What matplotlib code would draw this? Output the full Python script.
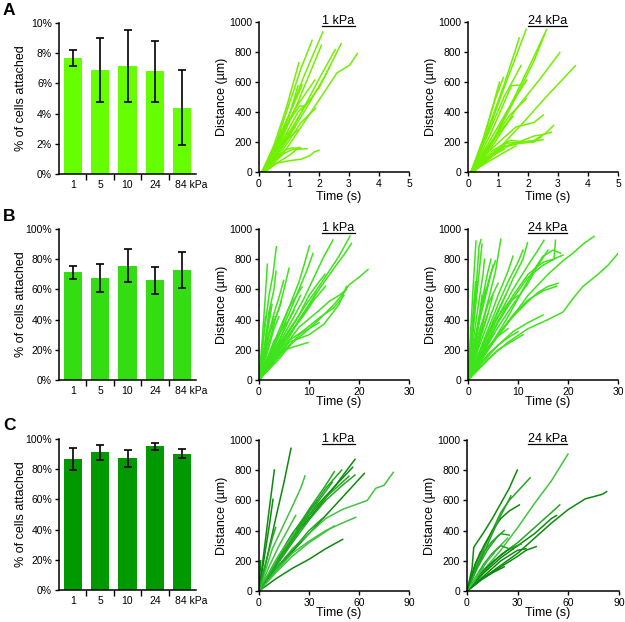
import matplotlib
matplotlib.use('Agg')
import matplotlib.pyplot as plt
from matplotlib.lines import Line2D

plt.rcParams['font.family'] = ['Liberation Sans', 'DejaVu Sans']

# ---------------- data ----------------
stiffness_labels = ['1', '5', '10', '24', '84 kPa']

a_attached = [7.7, 6.9, 7.15, 6.8, 4.4]
a_err = [0.53, 2.1, 2.4, 2.0, 2.5]
b_attached = [71.2, 67.4, 75.8, 65.9, 72.7]
b_err = [4.4, 9.3, 11.0, 8.8, 12.0]
c_attached = [86.7, 91.1, 87.1, 95.1, 90.2]
c_err = [7.5, 5.0, 5.4, 2.5, 3.1]

# tracks: lists of (time s, distance um)
a1_tracks = [
    [(0.1, 0), (0.5, 120), (1.0, 380), (1.5, 640), (2.13, 934)],
    [(0.1, 0), (0.5, 150), (1.0, 450), (1.4, 690), (1.77, 878)],
    [(0.1, 0), (0.6, 150), (1.2, 420), (1.7, 660), (2.08, 845)],
    [(0.2, 0), (0.8, 170), (1.5, 400), (2.2, 640), (2.74, 856)],
    [(0.2, 0), (0.8, 180), (1.5, 430), (2.0, 620), (2.54, 816)],
    [(0.2, 0), (0.8, 120), (1.5, 330), (2.2, 540), (2.6, 661), (3.02, 712), (3.28, 790)],
    [(0.1, 0), (0.5, 180), (0.9, 420), (1.33, 728)],
    [(0.2, 0), (0.8, 190), (1.5, 430), (2.0, 560), (2.35, 700)],
    [(0.1, 0), (0.6, 190), (1.2, 420), (1.86, 613)],
    [(0.1, 0), (0.5, 130), (1.0, 340), (1.35, 440), (1.52, 440)],
    [(0.2, 0), (0.8, 150), (1.4, 330), (1.89, 425)],
    [(0.1, 0), (0.5, 160), (1.0, 380), (1.44, 580)],
    [(0.1, 0), (0.5, 55), (1.0, 75), (1.4, 85), (1.7, 110), (1.85, 135), (2.0, 145)],
    [(0.1, 0), (0.5, 80), (0.9, 150), (1.1, 160), (1.4, 160)],
    [(0.1, 0), (0.5, 120), (0.9, 250), (1.2, 300)],
    [(0.1, 0), (0.4, 60), (0.8, 120), (1.1, 150), (1.6, 155)],
    [(0.1, 0), (0.6, 200), (1.0, 370), (1.3, 575)],
    [(0.1, 0), (0.5, 100), (1.0, 230), (1.3, 280)],
    [(0.2, 0), (0.6, 60), (1.0, 110), (1.35, 165)],
    [(0.1, 0), (0.4, 90), (0.8, 200), (1.0, 260)],
    [(0.15, 0), (0.7, 180), (1.3, 400), (1.7, 480)],
]

a2_tracks = [
    [(0.1, 0), (0.6, 230), (1.2, 560), (1.94, 951)],
    [(0.1, 0), (0.6, 250), (1.2, 580), (1.71, 894)],
    [(0.2, 0), (0.8, 200), (1.6, 520), (2.2, 770), (2.62, 949)],
    [(0.2, 0), (0.8, 190), (1.6, 500), (2.2, 740), (2.55, 915)],
    [(0.2, 0), (0.9, 200), (1.6, 420), (2.4, 620), (3.06, 796)],
    [(0.2, 0), (1.0, 150), (1.8, 320), (2.6, 500), (3.58, 708)],
    [(0.1, 0), (0.6, 220), (1.2, 500), (1.77, 710)],
    [(0.1, 0), (0.5, 220), (0.9, 480), (1.18, 630)],
    [(0.1, 0), (0.5, 200), (0.8, 420), (1.05, 600)],
    [(0.1, 0), (0.7, 200), (1.4, 440), (1.96, 613)],
    [(0.1, 0), (0.7, 230), (1.2, 460), (1.45, 575), (1.7, 580)],
    [(0.1, 0), (0.7, 180), (1.4, 380), (1.95, 490)],
    [(0.1, 0), (0.6, 120), (1.2, 230), (1.6, 300), (2.2, 330), (2.51, 380)],
    [(0.1, 0), (0.6, 90), (1.2, 190), (1.8, 200), (2.2, 210), (2.6, 260), (2.85, 310)],
    [(0.1, 0), (0.6, 80), (1.2, 170), (1.7, 200), (2.2, 240), (2.5, 250), (2.78, 265)],
    [(0.1, 0), (0.7, 100), (1.3, 170), (1.7, 190), (2.2, 200), (2.45, 235)],
    [(0.1, 0), (0.6, 150), (1.1, 280), (1.5, 370)],
    [(0.1, 0), (0.5, 70), (1.0, 130), (1.3, 200)],
    [(0.1, 0), (0.6, 60), (1.2, 130), (1.6, 175)],
    [(0.1, 0), (0.5, 110), (1.0, 250), (1.3, 320)],
    [(0.1, 0), (0.8, 140), (1.4, 210), (2.0, 200), (2.5, 215)],
    [(0.1, 0), (0.5, 50), (0.9, 120), (1.2, 150)],
]

b1_tracks = [
    [(0, 0), (1, 300), (2, 560), (2.8, 700), (3.47, 882)],
    [(0, 0), (0.6, 250), (1.2, 520), (1.67, 767)],
    [(0, 0), (1, 200), (2, 450), (3, 600), (3.4, 720)],
    [(0, 0), (1.5, 250), (3, 440), (4.2, 570), (4.93, 660)],
    [(0, 0), (1, 180), (2, 380), (2.6, 500)],
    [(0, 0), (0.8, 160), (1.6, 330), (2.2, 480)],
    [(0, 0), (2, 300), (4, 470), (5, 600), (6, 740)],
    [(0, 0), (2, 150), (4, 300), (6, 480), (8, 650), (9, 760), (10.1, 889)],
    [(0, 0), (2, 140), (4, 290), (6, 440), (8, 600), (9.5, 720), (10.8, 838)],
    [(0, 0), (3, 180), (6, 360), (9, 540), (11, 680), (13, 820), (14.8, 927)],
    [(0, 0), (3, 170), (6, 320), (9, 480), (12, 620), (14, 720), (16, 820), (18.2, 953)],
    [(0, 0), (3, 160), (6, 300), (9, 440), (12, 600), (15, 740), (17, 830), (18.5, 905)],
    [(0, 0), (3, 120), (6, 230), (9, 310), (12, 400), (15, 500), (17, 580), (18, 630), (20, 680), (21.8, 732)],
    [(0, 0), (3, 150), (6, 300), (9, 430), (11, 530), (13.3, 621)],
    [(0, 0), (2, 100), (5, 200), (8, 230), (9.8, 248)],
    [(0, 0), (2, 160), (4, 330), (6, 480), (8.6, 616)],
    [(0, 0), (3, 120), (6, 250), (10, 300), (13, 370), (16, 500), (17.5, 620)],
    [(0, 0), (3, 130), (6, 260), (9, 330), (12, 410), (15, 480), (17, 560)],
    [(0, 0), (3, 170), (6, 330), (8, 430), (10, 560), (12, 650), (13.2, 700)],
    [(0, 0), (2, 130), (4, 260), (6, 400), (7, 460)],
    [(0, 0), (2, 110), (4, 230), (6, 330), (7.5, 400)],
    [(0, 0), (3, 140), (6, 280), (8, 400), (10, 500), (11.5, 580)],
    [(0, 0), (1.5, 130), (3, 260), (4.5, 330), (5.5, 380)],
    [(0, 0), (2, 70), (4, 140), (6, 220), (8, 300), (10, 340), (12, 380)],
    [(0, 0), (1, 140), (2, 300), (3, 420)],
    [(0, 0), (1, 100), (2, 220), (3, 340), (4, 420)],
    [(0, 0), (3, 190), (5, 330), (7, 470), (8.3, 560)],
    [(0, 0), (4, 170), (8, 350), (12, 460), (14, 520), (16, 560), (17.5, 600)],
    [(0, 0), (0.5, 150), (1, 320), (1.3, 420)],
    [(0, 0), (2, 250), (3.5, 430), (4.5, 520)],
    [(0, 0), (1, 80), (2.5, 200), (4, 300), (5, 360)],
]

b2_tracks = [
    [(0, 0), (0.5, 300), (1, 600), (1.6, 920)],
    [(0, 0), (0.8, 300), (1.6, 600), (2.2, 880), (2.6, 930)],
    [(0, 0), (1, 330), (2, 640), (2.8, 900)],
    [(0, 0), (0.6, 250), (1.2, 500), (1.5, 650)],
    [(0, 0), (1, 250), (2, 480), (3, 700), (3.3, 800)],
    [(0, 0), (1, 200), (2, 380), (3, 560), (4, 720), (4.6, 800)],
    [(0, 0), (1, 200), (2.5, 420), (4, 620), (5, 760)],
    [(0, 0), (1.5, 280), (3, 520), (4.5, 700), (5.5, 790)],
    [(0, 0), (2, 260), (4, 520), (5.5, 720), (6.57, 933)],
    [(0, 0), (0.5, 150), (1, 330), (1.4, 480)],
    [(0, 0), (1, 150), (2, 350), (2.8, 560)],
    [(0, 0), (3, 220), (6, 450), (9, 670), (11, 800), (11.9, 909)],
    [(0, 0), (3, 200), (6, 420), (9, 600), (12, 760), (14, 860), (15.2, 925)],
    [(0, 0), (3, 180), (6, 380), (9, 540), (12, 680), (15, 760), (17.2, 800), (17.5, 925)],
    [(0, 0), (3, 150), (6, 300), (9, 430), (12, 530), (15, 590), (17.7, 621)],
    [(0, 0), (3, 190), (6, 390), (9, 560), (12, 700), (15, 780), (17, 800), (19, 827)],
    [(0, 0), (4, 200), (8, 380), (12, 560), (16, 700), (19, 790), (21, 840), (23, 900), (25.2, 951)],
    [(0, 0), (4, 140), (8, 250), (12, 340), (16, 400), (19, 450), (21, 540), (23, 620), (26, 700), (28, 760), (30, 838)],
    [(0, 0), (2, 200), (4, 380), (6, 560), (8, 720), (9, 820)],
    [(0, 0), (3, 250), (6, 500), (8, 650), (10, 780), (11, 860)],
    [(0, 0), (3, 180), (6, 350), (9, 500), (12, 640), (14, 760), (16, 860)],
    [(0, 0), (3, 160), (6, 300), (9, 420), (12, 520), (14, 580), (16, 620), (18, 640)],
    [(0, 0), (3, 120), (6, 230), (9, 320), (12, 380), (15, 430)],
    [(0, 0), (2, 120), (4, 220), (6, 290), (8, 340)],
    [(0, 0), (2, 150), (4, 300), (6, 420), (8, 510), (10, 560)],
    [(0, 0), (1, 120), (2, 240), (3, 350), (4, 440)],
    [(0, 0), (2, 220), (4, 440), (5, 560)],
    [(0, 0), (1.5, 200), (3, 380), (4, 520)],
    [(0, 0), (3, 100), (6, 200), (9, 260), (11, 300)],
    [(0, 0), (4, 200), (8, 420), (11, 600), (13, 720), (15, 820), (17, 860), (18.5, 840)],
    [(0, 0), (2, 160), (4, 310), (6, 460), (7.5, 560)],
    [(0, 0), (1, 180), (2, 350), (3, 520), (3.5, 600)],
    [(0, 0), (0.6, 200), (1.2, 420), (1.8, 650)],
    [(0, 0), (0.4, 150), (0.9, 380), (1.3, 560)],
    [(0, 0), (1, 150), (2, 300), (3, 400), (4, 500), (5, 570), (6, 640)],
    [(0, 0), (2, 90), (4, 170), (6, 230), (8, 280), (10, 320)],
]

c1_tracks = [
    [(0, 0), (5, 230), (10, 480), (15, 720), (19.2, 945)],
    [(0, 0), (3, 260), (6, 530), (9.2, 801)],
    [(0, 0), (3, 210), (6, 420), (8.4, 607)],
    [(0, 0), (12, 230), (24, 420), (36, 580), (46, 700), (52, 790), (57.6, 872)],
    [(0, 0), (12, 210), (24, 400), (36, 560), (46, 700), (56.2, 819)],
    [(0, 0), (15, 200), (30, 380), (45, 560), (55, 680), (63.2, 779)],
    [(0, 0), (10, 80), (20, 150), (30, 210), (40, 280), (50.2, 342)],
    [(0, 0), (0.5, 100), (1, 200)],
    [(0, 0), (10, 200), (20, 380), (28, 500), (35, 600)],
    [(0, 0), (10, 190), (20, 370), (30, 540), (40, 700), (45.2, 790)],
    [(0, 0), (10, 170), (20, 350), (30, 520), (40, 680), (49.6, 801)],
    [(0, 0), (10, 160), (20, 320), (30, 470), (40, 600), (50, 700), (57.6, 768)],
    [(0, 0), (8, 280), (14, 420), (20, 560), (25, 680), (27.6, 762)],
    [(0, 0), (10, 130), (20, 250), (30, 330), (40, 400), (50, 450), (58, 488)],
    [(0, 0), (10, 140), (20, 280), (30, 380), (40, 480), (50, 540), (60, 580), (65, 600), (70, 680), (75, 700), (80.6, 786)],
    [(0, 0), (10, 180), (20, 350), (30, 500), (40, 620), (50, 720), (54, 760)],
    [(0, 0), (8, 150), (16, 300), (24, 430), (32, 560)],
    [(0, 0), (10, 150), (20, 270), (30, 400), (38, 480)],
    [(0, 0), (6, 120), (12, 240), (18, 330), (22, 400)],
    [(0, 0), (10, 120), (20, 230), (30, 320), (45, 430)],
    [(0, 0), (12, 200), (24, 400), (36, 600), (44, 720)],
    [(0, 0), (6, 160), (12, 300), (18, 420), (22, 500)],
    [(0, 0), (4, 180), (8, 350), (10, 420)],
]
c1_shades = ['d', 'd', 'd', 'd', 'd', 'd', 'd', 'd', 'd', 'm', 'm', 'm', 'l',
             'l', 'l', 'm', 'm', 'm', 'l', 'l', 'm', 'l', 'm']

c2_tracks = [
    [(0, 0), (3, 150), (4, 290), (10, 390), (15, 480), (20, 580), (25, 680), (29.8, 801)],
    [(0, 0), (5, 150), (10, 280), (15, 400), (20, 520), (25, 600), (30, 660), (37.4, 750)],
    [(0, 0), (10, 140), (20, 270), (30, 420), (40, 580), (50, 730), (59.8, 907)],
    [(0, 0), (10, 130), (20, 240), (30, 320), (40, 420), (50, 520), (54.9, 570)],
    [(0, 0), (10, 90), (20, 170), (30, 250), (40, 350), (50, 450), (60, 540), (70, 610), (80, 640), (82.7, 658)],
    [(0, 0), (10, 120), (20, 220), (30, 300), (40, 380), (50, 480), (53, 500)],
    [(0, 0), (10, 90), (20, 160), (30, 230), (35, 270), (41, 294)],
    [(0, 0), (8, 120), (16, 200), (24, 270), (30, 300)],
    [(0, 0), (5, 150), (10, 260), (15, 330), (20, 380), (25, 370)],
    [(0, 0), (5, 180), (10, 300), (15, 400), (20, 480), (25, 530), (31, 570)],
    [(0, 0), (8, 70), (15, 120), (22, 160)],
    [(0, 0), (5, 130), (10, 250), (15, 380), (20, 500), (26, 630)],
    [(0, 0), (6, 100), (12, 200), (18, 280), (24, 350)],
    [(0, 0), (5, 90), (10, 180), (15, 250), (20, 300), (25, 280), (32, 310)],
    [(0, 0), (4, 60), (8, 130), (12, 200), (16, 250)],
    [(0, 0), (10, 100), (20, 200), (30, 270), (35, 280)],
    [(0, 0), (6, 150), (12, 270), (18, 360), (22, 400)],
    [(0, 0), (3, 50), (6, 110), (10, 150)],
    [(0, 0), (2, 80), (5, 180), (8, 260)],
]
c2_shades = ['d', 'm', 'l', 'm', 'd', 'd', 'd', 'd', 'm', 'd', 'd', 'm', 'l',
             'm', 'l', 'd', 'm', 'l', 'd']

# ---------------- styling ----------------
W, H = 625, 622
fig = plt.figure(figsize=(W / 100, H / 100), dpi=100)

def rect(l, t, r, b):
    return [l / W, 1 - b / H, (r - l) / W, (b - t) / H]

TICK_FS = 7.5
LAB_FS = 9
bar_colors = {'A': '#66FF00', 'B': '#33DD11', 'C': '#009A00'}
line_colors = {'A': '#72F000', 'B': '#3DE31B'}
c_shade_colors = {'d': '#0C8A0C', 'm': '#22A822', 'l': '#40C440'}

def style_axes(ax):
    for s in ['top', 'right']:
        ax.spines[s].set_visible(False)
    for s in ['left', 'bottom']:
        ax.spines[s].set_linewidth(1.1)
    ax.tick_params(direction='out', length=3, width=1, labelsize=TICK_FS, pad=2)

def bar_panel(r, vals, errs, color, ymax, step):
    ax = fig.add_axes(rect(*r))
    style_axes(ax)
    x = list(range(len(vals)))
    ax.bar(x, vals, width=0.66, color=color, edgecolor='none', zorder=2)
    ax.errorbar(x, vals, yerr=errs, fmt='none', ecolor='black', elinewidth=1.2,
                capsize=2.6, capthick=1.2, zorder=3)
    ax.set_xlim(-0.5, 4.5)
    ax.set_ylim(0, ymax)
    ticks = [i * step for i in range(int(round(ymax / step)) + 1)]
    ax.set_yticks(ticks)
    ax.set_yticklabels(['%g%%' % t for t in ticks])
    ax.set_xticks([0.5, 1.5, 2.5, 3.5])
    ax.set_xticklabels([])
    ax.tick_params(axis='x', which='major', length=4)
    # category labels; the last one ("84 kPa") starts just left of its bar centre
    for i, lab in enumerate(stiffness_labels):
        if i < len(stiffness_labels) - 1:
            ax.annotate(lab, xy=(x[i], 0), xycoords=('data', 'axes fraction'),
                        xytext=(0, -6), textcoords='offset pixels',
                        ha='center', va='top', fontsize=TICK_FS)
        else:
            ax.annotate(lab, xy=(x[i], 0), xycoords=('data', 'axes fraction'),
                        xytext=(-7, -6), textcoords='offset pixels',
                        ha='left', va='top', fontsize=TICK_FS)
    ax.set_ylabel('% of cells attached', fontsize=LAB_FS)
    ax.yaxis.set_label_coords(-0.235, 0.5)
    return ax

def line_panel(r, tracks, colors, xmax, xstep, title):
    ax = fig.add_axes(rect(*r))
    style_axes(ax)
    for tr, c in zip(tracks, colors):
        ax.plot([p[0] for p in tr], [p[1] for p in tr], color=c, lw=1.1,
                solid_joinstyle='round')
    ax.set_xlim(0, xmax)
    ax.set_ylim(0, 1000)
    ax.set_yticks(range(0, 1001, 200))
    ax.set_xticks([i * xstep for i in range(int(round(xmax / xstep)) + 1)])
    ax.set_ylabel('Distance (\u00b5m)', fontsize=LAB_FS)
    ax.yaxis.set_label_coords(-0.205, 0.5)
    ax.set_xlabel('Time (s)', fontsize=LAB_FS)
    t = ax.text(0.53, 0.99, title, transform=ax.transAxes, ha='center',
                va='baseline', fontsize=LAB_FS)
    return ax, t

axA = bar_panel((59, 23, 196, 174), a_attached, a_err, bar_colors['A'], 10, 2)
axB = bar_panel((59, 229, 196, 380), b_attached, b_err, bar_colors['B'], 100, 20)
axC = bar_panel((59, 439, 196, 590), c_attached, c_err, bar_colors['C'], 100, 20)

titles = []
ax, t = line_panel((259, 22, 409, 172), a1_tracks, [line_colors['A']] * len(a1_tracks), 5, 1, '1 kPa')
ax.xaxis.set_label_coords(0.53, -0.125); titles.append(t)
ax, t = line_panel((468, 22, 618, 172), a2_tracks, [line_colors['A']] * len(a2_tracks), 5, 1, '24 kPa')
ax.xaxis.set_label_coords(0.53, -0.125); titles.append(t)
ax, t = line_panel((259, 229, 409, 380), b1_tracks, [line_colors['B']] * len(b1_tracks), 30, 10, '1 kPa')
ax.xaxis.set_label_coords(0.53, -0.105); titles.append(t)
ax, t = line_panel((468, 229, 618, 380), b2_tracks, [line_colors['B']] * len(b2_tracks), 30, 10, '24 kPa')
ax.xaxis.set_label_coords(0.53, -0.105); titles.append(t)
ax, t = line_panel((259, 440, 409, 591), c1_tracks, [c_shade_colors[s] for s in c1_shades], 90, 30, '1 kPa')
ax.xaxis.set_label_coords(0.53, -0.105); titles.append(t)
ax, t = line_panel((467, 440, 619, 591), c2_tracks, [c_shade_colors[s] for s in c2_shades], 90, 30, '24 kPa')
ax.xaxis.set_label_coords(0.53, -0.105); titles.append(t)

# panel letters
for letter, top in [('A', 3), ('B', 209), ('C', 418)]:
    fig.text(3 / W, 1 - top / H, letter, fontsize=12.5, fontweight='bold', va='top', ha='left')

# underline titles
fig.canvas.draw()
renderer = fig.canvas.get_renderer()
for t in titles:
    bb = t.get_window_extent(renderer)
    y = (bb.y0 + 1.0) / H
    fig.add_artist(Line2D([bb.x0 / W, bb.x1 / W], [y, y], color='black', lw=0.9,
                          transform=fig.transFigure))

fig.savefig('out.png', dpi=100)
